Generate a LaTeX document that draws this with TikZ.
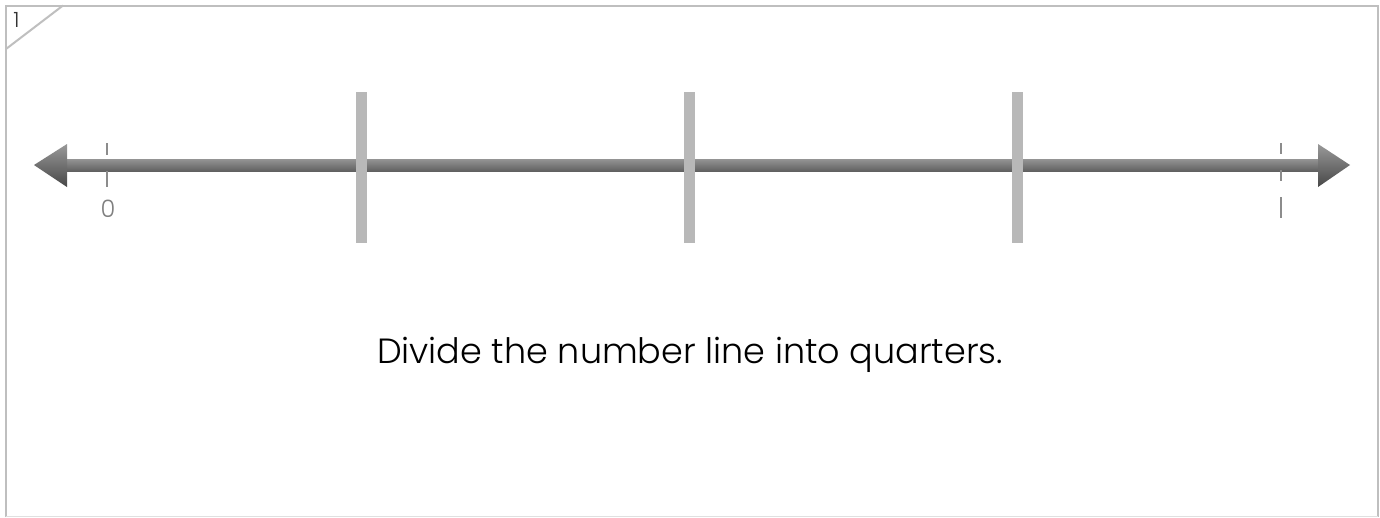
\documentclass[tikz,border=0pt]{standalone}
\usepackage{fontspec}
\setmainfont{Poppins}
\newfontfamily\lightfont{Poppins Light}
\begin{document}
\begin{tikzpicture}[x=1pt,y=-1pt,
  frameline/.style={draw=black!25,line width=2pt},
  bigtick/.style={fill=black!28,draw=none},
  smalltick/.style={draw=black!45,line width=2pt},
  shaftshade/.style={top color=black!42,bottom color=black!62,draw=none},
  headshade/.style={top color=black!40,bottom color=black!72,draw=none},
  lbl/.style={text=black!50,font=\lightfont\fontsize{24}{24}\selectfont},
  caption/.style={text=black,font=\lightfont\fontsize{35}{40}\selectfont}]
\useasboundingbox (0,0) rectangle (1380,517);
\fill[white] (0,0) rectangle (1380,517);
% frame
\draw[frameline] (5.5,517) -- (5.5,5.5) -- (1378,5.5) -- (1378,517);
\draw[draw=black!12,line width=1pt] (5.5,516.5) -- (1378,516.5);
\draw[frameline] (6,49) -- (63,5.5);
\node[anchor=center,text=black!80,font=\lightfont\fontsize{21}{21}\selectfont] (pg) at (16.5,20) {1};
% number line
\shade[shaftshade] (67,159) rectangle (1318,171);
\shade[headshade] (34,165) -- (67,144) -- (67,187) -- cycle;
\shade[headshade] (1350,165) -- (1318,144) -- (1318,187) -- cycle;
% small ticks
\coordinate (z0) at (107,143);
\coordinate (z1) at (107,187);
\draw[smalltick,dash pattern=on 12pt off 16pt on 16pt off 20pt] (z0) -- (z1);
\coordinate (o0) at (1281,143);
\coordinate (o1) at (1281,218);
\draw[smalltick,dash pattern=on 11pt off 16pt on 11pt off 16pt on 22pt off 10pt] (o0) -- (o1);
\node[lbl] (zero) at (108,209) {0};
% quarter ticks
\fill[bigtick] (356,92) rectangle (367,243);
\fill[bigtick] (684,92) rectangle (695,243);
\fill[bigtick] (1012,92) rectangle (1023,243);
% caption
\node[caption] (cap) at (690,355) {Divide the number line into quarters.};
\end{tikzpicture}
\end{document}
